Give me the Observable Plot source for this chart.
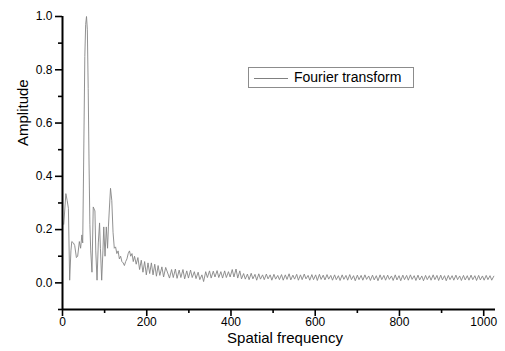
<!DOCTYPE html>
<html>
<head>
<meta charset="utf-8">
<script src="https://cdn.jsdelivr.net/npm/d3@7"></script>
<script src="https://cdn.jsdelivr.net/npm/@observablehq/plot@0.6"></script>
<style>
  body { margin: 0; background: #fff; }
  #wrap { position: relative; width: 505px; height: 351px; font-family: "Liberation Sans", Arial, sans-serif; }
  #legend { position: absolute; left: 248px; top: 67px; width: 164px; height: 19px; border: 1px solid #8c8c8c; background: #fff; box-sizing: content-box; }
  #legend .swatch { position: absolute; left: 5px; top: 10px; width: 34px; height: 0; border-top: 1px solid #808080; }
  #legend .label { position: absolute; left: 45px; top: 1px; font-size: 14px; line-height: 17px; color: #000; white-space: nowrap; }
</style>
</head>
<body>
<div id="wrap"></div>
<script>
// Low-frequency part of the spectrum: [spatial frequency, amplitude]
const lowBand = [
  [3,.22],[8,.335],[11,.31],[14,.28],[17,.01],[20,.12],[22,.155],[26,.15],[29,.14],[33,.095],
  [36,.1],[40,.155],[43,.13],[46,.18],[48,.15],[50,.42],[53,.85],[55,.97],[57,1.0],[59,.95],
  [61,.73],[63,.45],[65,.22],[67,.12],[70,.04],[73,.285],[77,.27],[79,.12],[82,.01],[85,.15],
  [88,.225],[90,.13],[93,.01],[96,.12],[98,.21],[101,.1],[104,.21],[107,.13],[109,.21],[112,.3],
  [114,.355],[117,.31],[120,.19],[123,.13],[126,.135],[129,.11],[132,.12],[135,.09],[138,.1],[141,.08],
  [144,.075],[147,.065],[150,.08],[153,.09],[156,.11],[159,.12],[162,.1],[165,.11],[168,.08],[171,.1],
  [175,.07],[179,.095],[183,.05],[187,.085],[191,.04],[195,.08],[199,.03],[203,.075],[207,.035],[211,.075],
  [215,.03],[219,.07],[223,.025],[227,.065],[231,.028],[236,.06],[240,.022],[245,.058]
];
// High-frequency tail: [spatial frequency, amplitude]
const tailBand = [
  [254,.018],[259,.05],[263,.02],[268,.052],[272,.017],[277,.048],[281,.02],[286,.05],[290,.015],
  [295,.045],[299,.018],[304,.048],[308,.02],[313,.042],[317,.016],[322,.04],[326,.012],[331,.03],[335,.005],
  [340,.042],[344,.02],[349,.045],[353,.018],[358,.044],[362,.022],[367,.046],[371,.02],[376,.042],[380,.018],
  [385,.045],[389,.02],[394,.042],[398,.022],[403,.05],[407,.022],[412,.052],[416,.018],[421,.045],[425,.015],
  [430,.035],[434,.014],[439,.033],[443,.012],[448,.036],[452,.015],[457,.032],[461,.01],[466,.034],[470,.014],
  [475,.03],[479,.012],[484,.033],[488,.015],[493,.03],[497,.01],[502,.032],[506,.014],[511,.028],[515,.012],
  [520,.031],[524,.01],[529,.03],[533,.013],[538,.034],[542,.011],[547,.029],[551,.014],[556,.032],[560,.01],
  [565,.03],[569,.012],[574,.033],[578,.015],[583,.028],[587,.01],[592,.031],[596,.012],[601,.03],[605,.009],
  [610,.032],[614,.013],[619,.029],[623,.011],[628,.031],[632,.014],[637,.028],[641,.01],[646,.03],[650,.012],
  [655,.027],[659,.009],[664,.03],[668,.013],[673,.028],[677,.01],[682,.031],[686,.012],[691,.027],[695,.008],
  [700,.029],[704,.012],[709,.028],[713,.01],[718,.03],[722,.013],[727,.026],[731,.009],[736,.029],[740,.011],
  [745,.027],[749,.008],[754,.03],[758,.012],[763,.028],[767,.01],[772,.029],[776,.013],[781,.026],[785,.009],
  [790,.03],[794,.011],[799,.027],[803,.008],[808,.029],[812,.012],[817,.028],[821,.01],[826,.03],[830,.013],
  [835,.027],[839,.009],[844,.029],[848,.011],[853,.026],[857,.008],[862,.028],[866,.012],[871,.027],[875,.01],
  [880,.03],[884,.012],[889,.028],[893,.009],[898,.029],[902,.011],[907,.027],[911,.008],[916,.028],[920,.012],
  [925,.027],[929,.01],[934,.029],[938,.012],[943,.026],[947,.009],[952,.028],[956,.011],[961,.027],[965,.01],
  [970,.029],[974,.012],[979,.027],[983,.009],[988,.028],[992,.011],[997,.026],[1001,.01],[1006,.028],[1010,.012],
  [1015,.027],[1019,.01],[1024,.025]
];

const xDomain = [0, 1028];
const yDomain = [-0.1, 1.0];
const xTicks = [0, 200, 400, 600, 800, 1000];
const xMinorTicks = [100, 300, 500, 700, 900];
const yTicks = [0, 0.2, 0.4, 0.6, 0.8, 1.0];
const yMinorTicks = [-0.1, 0.1, 0.3, 0.5, 0.7, 0.9];
const xTitle = "Spatial frequency";
const yTitle = "Amplitude";
const seriesName = "Fourier transform";

const spectrum = lowBand.concat(tailBand).map(([f, a]) => ({f, a}));

const chart = Plot.plot({
  width: 505,
  height: 351,
  marginLeft: 62,
  marginRight: 10,
  marginTop: 16,
  marginBottom: 42,
  x: {domain: xDomain},
  y: {domain: yDomain},
  style: {fontFamily: '"Liberation Sans", Arial, sans-serif', fontSize: "12px", color: "#000", background: "transparent", overflow: "visible"},
  marks: [
    Plot.line(spectrum, {x: "f", y: "a", stroke: "#858585", strokeWidth: 0.9}),
    Plot.axisX({ticks: xTicks, tickSize: 7, tickPadding: 1, strokeWidth: 1.6, tickFormat: d => String(d), label: null, fontSize: 12}),
    Plot.axisX({ticks: xMinorTicks, tickSize: 4, strokeWidth: 1.6, tickFormat: () => "", label: null}),
    Plot.axisY({ticks: yTicks, tickSize: 7, tickPadding: 3, strokeWidth: 1.6, tickFormat: d3.format(".1f"), label: null, fontSize: 12}),
    Plot.axisY({ticks: yMinorTicks, tickSize: 4, strokeWidth: 1.6, tickFormat: () => "", label: null}),
    Plot.ruleY([yDomain[0]], {stroke: "#000", strokeWidth: 2}),
    Plot.ruleX([xDomain[0]], {stroke: "#000", strokeWidth: 2}),
    Plot.text([yTitle], {text: d => d, frameAnchor: "left", rotate: -90, dx: -39, dy: -17, fontSize: 15, fill: "#000"}),
    Plot.text([xTitle], {text: d => d, frameAnchor: "bottom", dx: 6, dy: 33, fontSize: 15, fill: "#000"})
  ]
});

const wrap = document.getElementById("wrap");
wrap.appendChild(chart);
const legend = document.createElement("div");
legend.id = "legend";
legend.innerHTML = '<div class="swatch"></div><div class="label"></div>';
legend.querySelector(".label").textContent = seriesName;
wrap.appendChild(legend);
</script>
</body>
</html>
